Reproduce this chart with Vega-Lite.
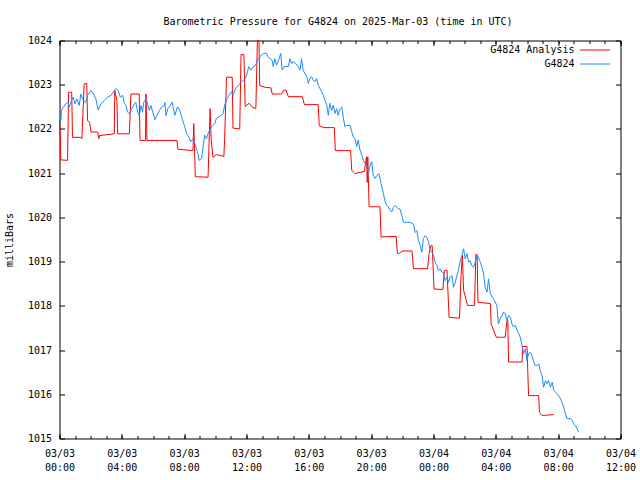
{
  "$schema": "https://vega.github.io/schema/vega-lite/v6.json",
  "width": 561,
  "height": 398,
  "autosize": {"type": "none"},
  "padding": {"left": 59.5, "top": 40.5, "right": 19.5, "bottom": 41.5},
  "background": "white",
  "title": {"text": "Barometric Pressure for G4824 on 2025-Mar-03 (time in UTC)", "font": "DejaVu Sans Mono", "fontSize": 10, "fontWeight": "normal", "color": "black", "anchor": "middle", "frame": "group", "baseline": "alphabetic", "offset": 1, "dx": -2},
  "config": {
    "view": {"stroke": "black", "strokeWidth": 1},
    "axis": {"grid": false, "domain": false, "tickColor": "black", "tickWidth": 1, "labelFont": "DejaVu Sans Mono", "labelFontSize": 10, "labelColor": "black", "titleFont": "DejaVu Sans Mono", "titleFontSize": 10, "titleFontWeight": "normal", "titleColor": "black", "labelFlush": false, "labelOverlap": false, "labelBound": false}
  },
  "datasets": {
    "ana": [
      {"t": "2025-03-03T00:00:00Z", "p": 1022.24}, {"t": "2025-03-03T00:03:00Z", "p": 1021.81}, {"t": "2025-03-03T00:05:00Z", "p": 1021.30}, {"t": "2025-03-03T00:31:00Z", "p": 1021.29},
      {"t": "2025-03-03T00:35:00Z", "p": 1022.83}, {"t": "2025-03-03T00:47:00Z", "p": 1022.83}, {"t": "2025-03-03T00:50:00Z", "p": 1021.81}, {"t": "2025-03-03T01:22:00Z", "p": 1021.81},
      {"t": "2025-03-03T01:26:00Z", "p": 1021.78}, {"t": "2025-03-03T01:35:00Z", "p": 1023.02}, {"t": "2025-03-03T01:45:00Z", "p": 1023.03}, {"t": "2025-03-03T01:48:00Z", "p": 1022.19},
      {"t": "2025-03-03T01:56:00Z", "p": 1022.15}, {"t": "2025-03-03T02:01:00Z", "p": 1021.93}, {"t": "2025-03-03T02:27:00Z", "p": 1021.93}, {"t": "2025-03-03T02:32:00Z", "p": 1021.78},
      {"t": "2025-03-03T02:34:00Z", "p": 1021.85}, {"t": "2025-03-03T03:31:00Z", "p": 1021.89}, {"t": "2025-03-03T03:33:00Z", "p": 1022.87}, {"t": "2025-03-03T03:41:00Z", "p": 1022.64},
      {"t": "2025-03-03T03:44:00Z", "p": 1021.89}, {"t": "2025-03-03T04:29:00Z", "p": 1021.89}, {"t": "2025-03-03T04:35:00Z", "p": 1022.79}, {"t": "2025-03-03T05:07:00Z", "p": 1022.79},
      {"t": "2025-03-03T05:10:00Z", "p": 1021.74}, {"t": "2025-03-03T05:31:00Z", "p": 1021.74}, {"t": "2025-03-03T05:33:00Z", "p": 1022.79}, {"t": "2025-03-03T05:37:00Z", "p": 1021.74},
      {"t": "2025-03-03T07:32:00Z", "p": 1021.74}, {"t": "2025-03-03T07:36:00Z", "p": 1021.54}, {"t": "2025-03-03T08:34:00Z", "p": 1021.51}, {"t": "2025-03-03T08:37:00Z", "p": 1022.12},
      {"t": "2025-03-03T08:43:00Z", "p": 1020.92}, {"t": "2025-03-03T09:32:00Z", "p": 1020.91}, {"t": "2025-03-03T09:35:00Z", "p": 1021.51}, {"t": "2025-03-03T09:40:00Z", "p": 1022.46},
      {"t": "2025-03-03T09:44:00Z", "p": 1021.74}, {"t": "2025-03-03T09:51:00Z", "p": 1021.36}, {"t": "2025-03-03T10:04:00Z", "p": 1021.42}, {"t": "2025-03-03T10:33:00Z", "p": 1021.38},
      {"t": "2025-03-03T10:36:00Z", "p": 1021.81}, {"t": "2025-03-03T10:43:00Z", "p": 1023.17}, {"t": "2025-03-03T11:05:00Z", "p": 1023.17}, {"t": "2025-03-03T11:08:00Z", "p": 1022.02},
      {"t": "2025-03-03T11:34:00Z", "p": 1022.00}, {"t": "2025-03-03T11:39:00Z", "p": 1023.68}, {"t": "2025-03-03T11:50:00Z", "p": 1023.68}, {"t": "2025-03-03T11:55:00Z", "p": 1022.51},
      {"t": "2025-03-03T12:10:00Z", "p": 1022.58}, {"t": "2025-03-03T12:23:00Z", "p": 1022.49}, {"t": "2025-03-03T12:36:00Z", "p": 1022.46}, {"t": "2025-03-03T12:42:00Z", "p": 1024.00},
      {"t": "2025-03-03T12:48:00Z", "p": 1024.00}, {"t": "2025-03-03T12:51:00Z", "p": 1022.98}, {"t": "2025-03-03T13:13:00Z", "p": 1022.94}, {"t": "2025-03-03T13:34:00Z", "p": 1022.93},
      {"t": "2025-03-03T13:39:00Z", "p": 1022.79}, {"t": "2025-03-03T14:15:00Z", "p": 1022.79}, {"t": "2025-03-03T14:25:00Z", "p": 1022.88}, {"t": "2025-03-03T14:32:00Z", "p": 1022.88},
      {"t": "2025-03-03T14:41:00Z", "p": 1022.73}, {"t": "2025-03-03T15:35:00Z", "p": 1022.73}, {"t": "2025-03-03T15:43:00Z", "p": 1022.55}, {"t": "2025-03-03T16:36:00Z", "p": 1022.55},
      {"t": "2025-03-03T16:40:00Z", "p": 1022.07}, {"t": "2025-03-03T16:58:00Z", "p": 1022.03}, {"t": "2025-03-03T17:38:00Z", "p": 1022.03}, {"t": "2025-03-03T17:42:00Z", "p": 1021.51},
      {"t": "2025-03-03T18:41:00Z", "p": 1021.51}, {"t": "2025-03-03T18:45:00Z", "p": 1021.07}, {"t": "2025-03-03T18:58:00Z", "p": 1020.99}, {"t": "2025-03-03T19:34:00Z", "p": 1021.04},
      {"t": "2025-03-03T19:42:00Z", "p": 1021.37}, {"t": "2025-03-03T19:45:00Z", "p": 1020.79}, {"t": "2025-03-03T19:47:00Z", "p": 1021.37}, {"t": "2025-03-03T19:52:00Z", "p": 1020.24},
      {"t": "2025-03-03T20:34:00Z", "p": 1020.24}, {"t": "2025-03-03T20:38:00Z", "p": 1019.56}, {"t": "2025-03-03T21:36:00Z", "p": 1019.57}, {"t": "2025-03-03T21:41:00Z", "p": 1019.19},
      {"t": "2025-03-03T21:48:00Z", "p": 1019.18}, {"t": "2025-03-03T21:58:00Z", "p": 1019.24}, {"t": "2025-03-03T22:37:00Z", "p": 1019.24}, {"t": "2025-03-03T22:43:00Z", "p": 1018.84},
      {"t": "2025-03-03T23:37:00Z", "p": 1018.84}, {"t": "2025-03-03T23:43:00Z", "p": 1019.18}, {"t": "2025-03-03T23:50:00Z", "p": 1019.36}, {"t": "2025-03-03T23:55:00Z", "p": 1019.36},
      {"t": "2025-03-04T00:02:00Z", "p": 1018.38}, {"t": "2025-03-04T00:36:00Z", "p": 1018.37}, {"t": "2025-03-04T00:42:00Z", "p": 1018.80}, {"t": "2025-03-04T00:52:00Z", "p": 1018.80},
      {"t": "2025-03-04T01:00:00Z", "p": 1017.74}, {"t": "2025-03-04T01:40:00Z", "p": 1017.72}, {"t": "2025-03-04T01:46:00Z", "p": 1018.69}, {"t": "2025-03-04T01:51:00Z", "p": 1019.14},
      {"t": "2025-03-04T01:56:00Z", "p": 1018.35}, {"t": "2025-03-04T02:11:00Z", "p": 1018.01}, {"t": "2025-03-04T02:38:00Z", "p": 1018.01}, {"t": "2025-03-04T02:43:00Z", "p": 1019.16},
      {"t": "2025-03-04T02:48:00Z", "p": 1019.16}, {"t": "2025-03-04T02:51:00Z", "p": 1018.08}, {"t": "2025-03-04T03:39:00Z", "p": 1018.05}, {"t": "2025-03-04T03:42:00Z", "p": 1017.59},
      {"t": "2025-03-04T04:02:00Z", "p": 1017.29}, {"t": "2025-03-04T04:36:00Z", "p": 1017.29}, {"t": "2025-03-04T04:43:00Z", "p": 1017.67}, {"t": "2025-03-04T04:46:00Z", "p": 1017.67},
      {"t": "2025-03-04T04:49:00Z", "p": 1016.73}, {"t": "2025-03-04T05:41:00Z", "p": 1016.73}, {"t": "2025-03-04T05:43:00Z", "p": 1017.08}, {"t": "2025-03-04T06:00:00Z", "p": 1017.08},
      {"t": "2025-03-04T06:06:00Z", "p": 1015.97}, {"t": "2025-03-04T06:45:00Z", "p": 1015.97}, {"t": "2025-03-04T06:48:00Z", "p": 1015.59}, {"t": "2025-03-04T06:58:00Z", "p": 1015.52},
      {"t": "2025-03-04T07:43:00Z", "p": 1015.54}
    ],
    "obs": [
      {"t": "2025-03-03T00:00:00Z", "p": 1022.19}, {"t": "2025-03-03T00:03:00Z", "p": 1022.35}, {"t": "2025-03-03T00:05:00Z", "p": 1022.20}, {"t": "2025-03-03T00:08:00Z", "p": 1022.42},
      {"t": "2025-03-03T00:15:00Z", "p": 1022.49}, {"t": "2025-03-03T00:24:00Z", "p": 1022.57}, {"t": "2025-03-03T00:34:00Z", "p": 1022.60}, {"t": "2025-03-03T00:37:00Z", "p": 1022.49},
      {"t": "2025-03-03T00:46:00Z", "p": 1022.64}, {"t": "2025-03-03T00:53:00Z", "p": 1022.72}, {"t": "2025-03-03T00:59:00Z", "p": 1022.57}, {"t": "2025-03-03T01:07:00Z", "p": 1022.68},
      {"t": "2025-03-03T01:16:00Z", "p": 1022.53}, {"t": "2025-03-03T01:22:00Z", "p": 1022.79}, {"t": "2025-03-03T01:29:00Z", "p": 1022.68}, {"t": "2025-03-03T01:41:00Z", "p": 1022.60},
      {"t": "2025-03-03T01:48:00Z", "p": 1022.76}, {"t": "2025-03-03T02:01:00Z", "p": 1022.87}, {"t": "2025-03-03T02:11:00Z", "p": 1022.79}, {"t": "2025-03-03T02:20:00Z", "p": 1022.68},
      {"t": "2025-03-03T02:29:00Z", "p": 1022.43}, {"t": "2025-03-03T02:39:00Z", "p": 1022.57}, {"t": "2025-03-03T02:52:00Z", "p": 1022.64}, {"t": "2025-03-03T03:05:00Z", "p": 1022.72},
      {"t": "2025-03-03T03:18:00Z", "p": 1022.76}, {"t": "2025-03-03T03:31:00Z", "p": 1022.87}, {"t": "2025-03-03T03:37:00Z", "p": 1022.91}, {"t": "2025-03-03T03:46:00Z", "p": 1022.87},
      {"t": "2025-03-03T03:54:00Z", "p": 1022.72}, {"t": "2025-03-03T04:03:00Z", "p": 1022.76}, {"t": "2025-03-03T04:10:00Z", "p": 1022.57}, {"t": "2025-03-03T04:16:00Z", "p": 1022.53},
      {"t": "2025-03-03T04:22:00Z", "p": 1022.38}, {"t": "2025-03-03T04:29:00Z", "p": 1022.34}, {"t": "2025-03-03T04:35:00Z", "p": 1022.42}, {"t": "2025-03-03T04:42:00Z", "p": 1022.49},
      {"t": "2025-03-03T04:48:00Z", "p": 1022.57}, {"t": "2025-03-03T04:54:00Z", "p": 1022.60}, {"t": "2025-03-03T05:01:00Z", "p": 1022.38}, {"t": "2025-03-03T05:07:00Z", "p": 1022.30},
      {"t": "2025-03-03T05:14:00Z", "p": 1022.53}, {"t": "2025-03-03T05:20:00Z", "p": 1022.38}, {"t": "2025-03-03T05:24:00Z", "p": 1022.60}, {"t": "2025-03-03T05:33:00Z", "p": 1022.68},
      {"t": "2025-03-03T05:39:00Z", "p": 1022.57}, {"t": "2025-03-03T05:46:00Z", "p": 1022.42}, {"t": "2025-03-03T05:52:00Z", "p": 1022.53}, {"t": "2025-03-03T05:59:00Z", "p": 1022.38},
      {"t": "2025-03-03T06:08:00Z", "p": 1022.21}, {"t": "2025-03-03T06:15:00Z", "p": 1022.30}, {"t": "2025-03-03T06:25:00Z", "p": 1022.42}, {"t": "2025-03-03T06:33:00Z", "p": 1022.49},
      {"t": "2025-03-03T06:44:00Z", "p": 1022.53}, {"t": "2025-03-03T06:46:00Z", "p": 1022.60}, {"t": "2025-03-03T06:50:00Z", "p": 1022.30}, {"t": "2025-03-03T06:57:00Z", "p": 1022.46},
      {"t": "2025-03-03T07:07:00Z", "p": 1022.53}, {"t": "2025-03-03T07:13:00Z", "p": 1022.61}, {"t": "2025-03-03T07:24:00Z", "p": 1022.31}, {"t": "2025-03-03T07:34:00Z", "p": 1022.50},
      {"t": "2025-03-03T07:43:00Z", "p": 1022.42}, {"t": "2025-03-03T07:52:00Z", "p": 1022.24}, {"t": "2025-03-03T08:02:00Z", "p": 1022.05}, {"t": "2025-03-03T08:09:00Z", "p": 1021.90},
      {"t": "2025-03-03T08:18:00Z", "p": 1021.82}, {"t": "2025-03-03T08:25:00Z", "p": 1021.71}, {"t": "2025-03-03T08:34:00Z", "p": 1021.78}, {"t": "2025-03-03T08:41:00Z", "p": 1021.67},
      {"t": "2025-03-03T08:47:00Z", "p": 1021.56}, {"t": "2025-03-03T08:53:00Z", "p": 1021.44}, {"t": "2025-03-03T08:57:00Z", "p": 1021.29}, {"t": "2025-03-03T09:07:00Z", "p": 1021.33},
      {"t": "2025-03-03T09:13:00Z", "p": 1021.60}, {"t": "2025-03-03T09:19:00Z", "p": 1021.86}, {"t": "2025-03-03T09:26:00Z", "p": 1021.78}, {"t": "2025-03-03T09:32:00Z", "p": 1021.90},
      {"t": "2025-03-03T09:39:00Z", "p": 1021.97}, {"t": "2025-03-03T09:45:00Z", "p": 1022.05}, {"t": "2025-03-03T09:58:00Z", "p": 1022.12}, {"t": "2025-03-03T10:04:00Z", "p": 1022.24},
      {"t": "2025-03-03T10:13:00Z", "p": 1022.27}, {"t": "2025-03-03T10:24:00Z", "p": 1022.31}, {"t": "2025-03-03T10:30:00Z", "p": 1022.35}, {"t": "2025-03-03T10:36:00Z", "p": 1022.54},
      {"t": "2025-03-03T10:43:00Z", "p": 1022.65}, {"t": "2025-03-03T10:52:00Z", "p": 1022.76}, {"t": "2025-03-03T11:02:00Z", "p": 1022.84}, {"t": "2025-03-03T11:08:00Z", "p": 1022.76},
      {"t": "2025-03-03T11:18:00Z", "p": 1022.91}, {"t": "2025-03-03T11:30:00Z", "p": 1022.99}, {"t": "2025-03-03T11:41:00Z", "p": 1023.07}, {"t": "2025-03-03T11:47:00Z", "p": 1023.10},
      {"t": "2025-03-03T11:56:00Z", "p": 1023.14}, {"t": "2025-03-03T12:04:00Z", "p": 1023.29}, {"t": "2025-03-03T12:09:00Z", "p": 1023.41}, {"t": "2025-03-03T12:17:00Z", "p": 1023.33},
      {"t": "2025-03-03T12:26:00Z", "p": 1023.41}, {"t": "2025-03-03T12:35:00Z", "p": 1023.44}, {"t": "2025-03-03T12:40:00Z", "p": 1023.52}, {"t": "2025-03-03T12:45:00Z", "p": 1023.59},
      {"t": "2025-03-03T12:51:00Z", "p": 1023.63}, {"t": "2025-03-03T13:00:00Z", "p": 1023.68}, {"t": "2025-03-03T13:08:00Z", "p": 1023.71}, {"t": "2025-03-03T13:17:00Z", "p": 1023.71},
      {"t": "2025-03-03T13:23:00Z", "p": 1023.63}, {"t": "2025-03-03T13:39:00Z", "p": 1023.55}, {"t": "2025-03-03T13:43:00Z", "p": 1023.41}, {"t": "2025-03-03T13:49:00Z", "p": 1023.59},
      {"t": "2025-03-03T13:56:00Z", "p": 1023.44}, {"t": "2025-03-03T14:05:00Z", "p": 1023.58}, {"t": "2025-03-03T14:12:00Z", "p": 1023.71}, {"t": "2025-03-03T14:17:00Z", "p": 1023.33},
      {"t": "2025-03-03T14:25:00Z", "p": 1023.41}, {"t": "2025-03-03T14:41:00Z", "p": 1023.41}, {"t": "2025-03-03T14:47:00Z", "p": 1023.59}, {"t": "2025-03-03T14:54:00Z", "p": 1023.48},
      {"t": "2025-03-03T15:00:00Z", "p": 1023.52}, {"t": "2025-03-03T15:09:00Z", "p": 1023.48}, {"t": "2025-03-03T15:19:00Z", "p": 1023.41}, {"t": "2025-03-03T15:26:00Z", "p": 1023.33},
      {"t": "2025-03-03T15:32:00Z", "p": 1023.59}, {"t": "2025-03-03T15:38:00Z", "p": 1023.33}, {"t": "2025-03-03T15:45:00Z", "p": 1023.25}, {"t": "2025-03-03T15:52:00Z", "p": 1023.18},
      {"t": "2025-03-03T15:58:00Z", "p": 1023.03}, {"t": "2025-03-03T16:04:00Z", "p": 1023.14}, {"t": "2025-03-03T16:11:00Z", "p": 1023.18}, {"t": "2025-03-03T16:17:00Z", "p": 1023.10},
      {"t": "2025-03-03T16:24:00Z", "p": 1023.07}, {"t": "2025-03-03T16:30:00Z", "p": 1023.14}, {"t": "2025-03-03T16:36:00Z", "p": 1022.99}, {"t": "2025-03-03T16:43:00Z", "p": 1022.91},
      {"t": "2025-03-03T16:49:00Z", "p": 1022.84}, {"t": "2025-03-03T16:56:00Z", "p": 1022.76}, {"t": "2025-03-03T17:02:00Z", "p": 1022.65}, {"t": "2025-03-03T17:09:00Z", "p": 1022.54},
      {"t": "2025-03-03T17:15:00Z", "p": 1022.31}, {"t": "2025-03-03T17:21:00Z", "p": 1022.58}, {"t": "2025-03-03T17:28:00Z", "p": 1022.42}, {"t": "2025-03-03T17:34:00Z", "p": 1022.54},
      {"t": "2025-03-03T17:41:00Z", "p": 1022.35}, {"t": "2025-03-03T17:47:00Z", "p": 1022.46}, {"t": "2025-03-03T17:53:00Z", "p": 1022.31}, {"t": "2025-03-03T18:00:00Z", "p": 1022.46},
      {"t": "2025-03-03T18:07:00Z", "p": 1022.50}, {"t": "2025-03-03T18:13:00Z", "p": 1022.24}, {"t": "2025-03-03T18:19:00Z", "p": 1022.05}, {"t": "2025-03-03T18:26:00Z", "p": 1022.08},
      {"t": "2025-03-03T18:39:00Z", "p": 1022.08}, {"t": "2025-03-03T18:45:00Z", "p": 1021.94}, {"t": "2025-03-03T18:51:00Z", "p": 1021.82}, {"t": "2025-03-03T18:58:00Z", "p": 1021.78},
      {"t": "2025-03-03T19:04:00Z", "p": 1021.60}, {"t": "2025-03-03T19:10:00Z", "p": 1021.75}, {"t": "2025-03-03T19:17:00Z", "p": 1021.52}, {"t": "2025-03-03T19:24:00Z", "p": 1021.41},
      {"t": "2025-03-03T19:30:00Z", "p": 1021.29}, {"t": "2025-03-03T19:36:00Z", "p": 1021.22}, {"t": "2025-03-03T19:43:00Z", "p": 1021.18}, {"t": "2025-03-03T19:49:00Z", "p": 1020.99},
      {"t": "2025-03-03T19:56:00Z", "p": 1021.18}, {"t": "2025-03-03T20:02:00Z", "p": 1021.26}, {"t": "2025-03-03T20:08:00Z", "p": 1020.95}, {"t": "2025-03-03T20:15:00Z", "p": 1020.88},
      {"t": "2025-03-03T20:22:00Z", "p": 1020.95}, {"t": "2025-03-03T20:30:00Z", "p": 1020.99}, {"t": "2025-03-03T20:38:00Z", "p": 1020.77}, {"t": "2025-03-03T20:43:00Z", "p": 1020.65},
      {"t": "2025-03-03T20:47:00Z", "p": 1020.54}, {"t": "2025-03-03T20:54:00Z", "p": 1020.35}, {"t": "2025-03-03T21:00:00Z", "p": 1020.28}, {"t": "2025-03-03T21:06:00Z", "p": 1020.24},
      {"t": "2025-03-03T21:13:00Z", "p": 1020.16}, {"t": "2025-03-03T21:19:00Z", "p": 1020.12}, {"t": "2025-03-03T21:26:00Z", "p": 1020.23}, {"t": "2025-03-03T21:32:00Z", "p": 1020.27},
      {"t": "2025-03-03T21:39:00Z", "p": 1020.23}, {"t": "2025-03-03T21:45:00Z", "p": 1020.19}, {"t": "2025-03-03T21:51:00Z", "p": 1020.19}, {"t": "2025-03-03T21:58:00Z", "p": 1020.04},
      {"t": "2025-03-03T22:04:00Z", "p": 1019.89}, {"t": "2025-03-03T22:30:00Z", "p": 1019.89}, {"t": "2025-03-03T22:43:00Z", "p": 1019.85}, {"t": "2025-03-03T22:49:00Z", "p": 1019.66},
      {"t": "2025-03-03T22:56:00Z", "p": 1019.70}, {"t": "2025-03-03T23:02:00Z", "p": 1019.48}, {"t": "2025-03-03T23:09:00Z", "p": 1019.36}, {"t": "2025-03-03T23:15:00Z", "p": 1019.21},
      {"t": "2025-03-03T23:21:00Z", "p": 1019.52}, {"t": "2025-03-03T23:28:00Z", "p": 1019.59}, {"t": "2025-03-03T23:34:00Z", "p": 1019.55}, {"t": "2025-03-03T23:41:00Z", "p": 1019.44},
      {"t": "2025-03-03T23:47:00Z", "p": 1019.25}, {"t": "2025-03-03T23:54:00Z", "p": 1019.21}, {"t": "2025-03-04T00:00:00Z", "p": 1019.14}, {"t": "2025-03-04T00:06:00Z", "p": 1018.99},
      {"t": "2025-03-04T00:13:00Z", "p": 1018.91}, {"t": "2025-03-04T00:19:00Z", "p": 1018.80}, {"t": "2025-03-04T00:26:00Z", "p": 1018.84}, {"t": "2025-03-04T00:32:00Z", "p": 1018.76},
      {"t": "2025-03-04T00:38:00Z", "p": 1018.76}, {"t": "2025-03-04T00:45:00Z", "p": 1018.57}, {"t": "2025-03-04T00:52:00Z", "p": 1018.65}, {"t": "2025-03-04T00:58:00Z", "p": 1018.53},
      {"t": "2025-03-04T01:04:00Z", "p": 1018.65}, {"t": "2025-03-04T01:11:00Z", "p": 1018.69}, {"t": "2025-03-04T01:17:00Z", "p": 1018.42}, {"t": "2025-03-04T01:24:00Z", "p": 1018.53},
      {"t": "2025-03-04T01:30:00Z", "p": 1018.69}, {"t": "2025-03-04T01:36:00Z", "p": 1018.80}, {"t": "2025-03-04T01:43:00Z", "p": 1019.02}, {"t": "2025-03-04T01:49:00Z", "p": 1019.14},
      {"t": "2025-03-04T01:56:00Z", "p": 1019.29}, {"t": "2025-03-04T02:02:00Z", "p": 1019.06}, {"t": "2025-03-04T02:09:00Z", "p": 1019.18}, {"t": "2025-03-04T02:15:00Z", "p": 1018.99},
      {"t": "2025-03-04T02:21:00Z", "p": 1019.02}, {"t": "2025-03-04T02:28:00Z", "p": 1018.91}, {"t": "2025-03-04T02:34:00Z", "p": 1018.87}, {"t": "2025-03-04T02:41:00Z", "p": 1018.99},
      {"t": "2025-03-04T02:47:00Z", "p": 1019.14}, {"t": "2025-03-04T02:53:00Z", "p": 1019.10}, {"t": "2025-03-04T03:00:00Z", "p": 1018.99}, {"t": "2025-03-04T03:07:00Z", "p": 1018.87},
      {"t": "2025-03-04T03:13:00Z", "p": 1018.72}, {"t": "2025-03-04T03:19:00Z", "p": 1018.42}, {"t": "2025-03-04T03:26:00Z", "p": 1018.31}, {"t": "2025-03-04T03:32:00Z", "p": 1018.61},
      {"t": "2025-03-04T03:39:00Z", "p": 1018.27}, {"t": "2025-03-04T03:51:00Z", "p": 1018.16}, {"t": "2025-03-04T04:04:00Z", "p": 1018.01}, {"t": "2025-03-04T04:10:00Z", "p": 1017.59},
      {"t": "2025-03-04T04:17:00Z", "p": 1017.71}, {"t": "2025-03-04T04:24:00Z", "p": 1017.78}, {"t": "2025-03-04T04:30:00Z", "p": 1017.86}, {"t": "2025-03-04T04:36:00Z", "p": 1017.82},
      {"t": "2025-03-04T04:43:00Z", "p": 1017.67}, {"t": "2025-03-04T04:49:00Z", "p": 1017.78}, {"t": "2025-03-04T04:56:00Z", "p": 1017.74}, {"t": "2025-03-04T05:02:00Z", "p": 1017.59},
      {"t": "2025-03-04T05:08:00Z", "p": 1017.52}, {"t": "2025-03-04T05:15:00Z", "p": 1017.56}, {"t": "2025-03-04T05:22:00Z", "p": 1017.44}, {"t": "2025-03-04T05:28:00Z", "p": 1017.37},
      {"t": "2025-03-04T05:34:00Z", "p": 1017.29}, {"t": "2025-03-04T05:41:00Z", "p": 1017.10}, {"t": "2025-03-04T05:47:00Z", "p": 1016.92}, {"t": "2025-03-04T05:54:00Z", "p": 1017.03},
      {"t": "2025-03-04T06:00:00Z", "p": 1016.76}, {"t": "2025-03-04T06:06:00Z", "p": 1016.92}, {"t": "2025-03-04T06:13:00Z", "p": 1016.95}, {"t": "2025-03-04T06:19:00Z", "p": 1016.88},
      {"t": "2025-03-04T06:26:00Z", "p": 1016.73}, {"t": "2025-03-04T06:32:00Z", "p": 1016.65}, {"t": "2025-03-04T06:39:00Z", "p": 1016.65}, {"t": "2025-03-04T06:45:00Z", "p": 1016.69},
      {"t": "2025-03-04T06:51:00Z", "p": 1016.54}, {"t": "2025-03-04T06:58:00Z", "p": 1016.42}, {"t": "2025-03-04T07:04:00Z", "p": 1016.16}, {"t": "2025-03-04T07:11:00Z", "p": 1016.31},
      {"t": "2025-03-04T07:17:00Z", "p": 1016.24}, {"t": "2025-03-04T07:23:00Z", "p": 1016.31}, {"t": "2025-03-04T07:30:00Z", "p": 1016.16}, {"t": "2025-03-04T07:37:00Z", "p": 1016.27},
      {"t": "2025-03-04T07:43:00Z", "p": 1016.09}, {"t": "2025-03-04T07:49:00Z", "p": 1016.05}, {"t": "2025-03-04T07:56:00Z", "p": 1016.01}, {"t": "2025-03-04T08:02:00Z", "p": 1015.97},
      {"t": "2025-03-04T08:09:00Z", "p": 1015.90}, {"t": "2025-03-04T08:15:00Z", "p": 1015.82}, {"t": "2025-03-04T08:21:00Z", "p": 1015.71}, {"t": "2025-03-04T08:28:00Z", "p": 1015.56},
      {"t": "2025-03-04T08:34:00Z", "p": 1015.45}, {"t": "2025-03-04T08:47:00Z", "p": 1015.45}, {"t": "2025-03-04T08:54:00Z", "p": 1015.41}, {"t": "2025-03-04T09:00:00Z", "p": 1015.33},
      {"t": "2025-03-04T09:10:00Z", "p": 1015.26}, {"t": "2025-03-04T09:19:00Z", "p": 1015.14}
    ]
  },
  "layer": [
    {
      "data": {"name": "ana"},
      "mark": {"type": "line", "strokeWidth": 1},
      "encoding": {
        "x": {"field": "t", "type": "temporal",
          "scale": {"type": "utc", "domain": [1740960000000, 1741089600000], "nice": false},
          "axis": {"orient": "bottom", "values": [1740960000000, 1740974400000, 1740988800000, 1741003200000, 1741017600000, 1741032000000, 1741046400000, 1741060800000, 1741075200000, 1741089600000],
            "tickSize": -5, "labelPadding": 15, "labelBaseline": "top", "labelLineHeight": 14,
            "labelExpr": "[utcFormat(datum.value, '%m/%d'), utcFormat(datum.value, '%H:%M')]", "title": null}},
        "y": {"field": "p", "type": "quantitative",
          "scale": {"domain": [1015, 1024], "nice": false, "zero": false},
          "axis": {"orient": "left", "values": [1015, 1016, 1017, 1018, 1019, 1020, 1021, 1022, 1023, 1024], "format": "d", "tickSize": -5, "labelPadding": 13,
            "title": "milliBars", "titleX": -50, "titleY": 199, "titleAngle": -90, "titleAlign": "center", "titleBaseline": "middle"}},
        "color": {"datum": "G4824 Analysis", "type": "nominal",
          "scale": {"domain": ["G4824 Analysis", "G4824"], "range": ["#ff0000", "#1a8cff"]},
          "legend": {"orient": "none", "legendX": 530, "legendY": 4, "title": null, "symbolType": "M-3,0H3", "symbolSize": 100, "symbolStrokeWidth": 1,
            "labelAlign": "right", "labelOffset": -26, "labelFont": "DejaVu Sans Mono", "labelFontSize": 10, "labelColor": "black", "padding": 0, "rowPadding": 3, "labelLimit": 300}}
      }
    },
    {
      "data": {"name": "obs"},
      "mark": {"type": "line", "strokeWidth": 1},
      "encoding": {
        "x": {"field": "t", "type": "temporal",
          "scale": {"type": "utc", "domain": [1740960000000, 1741089600000], "nice": false},
          "axis": {"orient": "top", "values": [1740960000000, 1740974400000, 1740988800000, 1741003200000, 1741017600000, 1741032000000, 1741046400000, 1741060800000, 1741075200000, 1741089600000],
            "tickSize": -5, "labels": false, "title": null}},
        "y": {"field": "p", "type": "quantitative",
          "scale": {"domain": [1015, 1024], "nice": false, "zero": false},
          "axis": {"orient": "right", "values": [1015, 1016, 1017, 1018, 1019, 1020, 1021, 1022, 1023, 1024], "tickSize": -5, "labels": false, "title": null}},
        "color": {"datum": "G4824", "type": "nominal",
          "scale": {"domain": ["G4824 Analysis", "G4824"], "range": ["#ff0000", "#1a8cff"]},
          "legend": {"orient": "none", "legendX": 530, "legendY": 4, "title": null, "symbolType": "M-3,0H3", "symbolSize": 100, "symbolStrokeWidth": 1,
            "labelAlign": "right", "labelOffset": -26, "labelFont": "DejaVu Sans Mono", "labelFontSize": 10, "labelColor": "black", "padding": 0, "rowPadding": 3, "labelLimit": 300}}
      }
    },
    {
      "data": {"name": "obs"},
      "mark": {"type": "line", "opacity": 0},
      "encoding": {
        "x": {"field": "t", "type": "temporal",
          "scale": {"type": "utc", "domain": [1740960000000, 1741089600000], "nice": false},
          "axis": {"orient": "bottom", "tickCount": 36, "tickSize": -3, "labels": false, "title": null}},
        "y": {"field": "p", "type": "quantitative", "scale": {"domain": [1015, 1024], "nice": false, "zero": false}, "axis": null}
      }
    },
    {
      "data": {"name": "obs"},
      "mark": {"type": "line", "opacity": 0},
      "encoding": {
        "x": {"field": "t", "type": "temporal",
          "scale": {"type": "utc", "domain": [1740960000000, 1741089600000], "nice": false},
          "axis": {"orient": "top", "tickCount": 36, "tickSize": -3, "labels": false, "title": null}},
        "y": {"field": "p", "type": "quantitative", "scale": {"domain": [1015, 1024], "nice": false, "zero": false}, "axis": null}
      }
    }
  ],
  "resolve": {"axis": {"x": "independent", "y": "independent"}}
}
